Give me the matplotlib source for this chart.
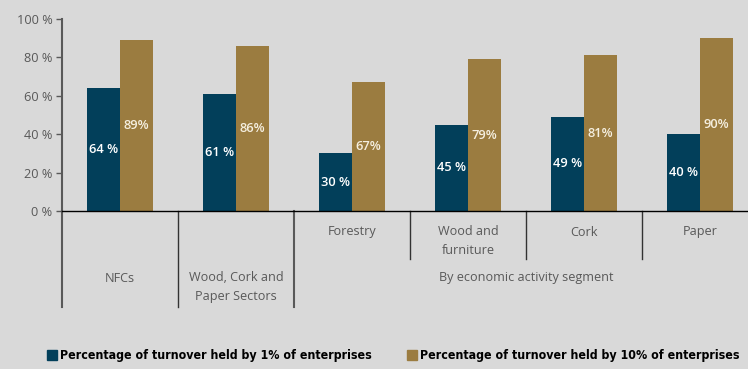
import matplotlib.pyplot as plt
from matplotlib.transforms import blended_transform_factory
from matplotlib.patches import Rectangle
from matplotlib import font_manager

# datos
grupos = ["NFCs", "Wood, Cork and\nPaper Sectors", "Forestry", "Wood and\nfurniture", "Cork", "Paper"]
top1 = [64, 61, 30, 45, 49, 40]
top10 = [89, 86, 67, 79, 81, 90]
etiq1 = ["64 %", "61 %", "30 %", "45 %", "49 %", "40 %"]
etiq10 = ["89%", "86%", "67%", "79%", "81%", "90%"]
yticks = [0, 20, 40, 60, 80, 100]
ylabels = ["0 %", "20 %", "40 %", "60 %", "80 %", "100 %"]
leyenda = ["Percentage of turnover held by 1% of enterprises",
           "Percentage of turnover held by 10% of enterprises"]

azul = "#023f5a"
oro = "#9b7c40"
fondo = "#d9d9d9"
gris = "#595959"

W, H = 748, 369
fig = plt.figure(figsize=(W / 100, H / 100), dpi=100, facecolor=fondo)
ax = fig.add_axes([62 / W, (H - 211) / H, 696 / W, 192 / H])
ax.set_facecolor(fondo)

ancho = 0.284
x = [i + 0.5 for i in range(len(grupos))]
b1 = ax.bar([v - ancho / 2 for v in x], top1, ancho, color=azul)
b2 = ax.bar([v + ancho / 2 for v in x], top10, ancho, color=oro)

for rect, t in zip(b1, etiq1):
    ax.text(rect.get_x() + rect.get_width() / 2, rect.get_height() / 2, t,
            ha="center", va="center", color="white", fontsize=9.3,
            fontweight="semibold", family="Open Sans")
for rect, t in zip(b2, etiq10):
    ax.text(rect.get_x() + rect.get_width() / 2, rect.get_height() / 2, t,
            ha="center", va="center", color="#f5efe0", fontsize=9.3,
            fontweight="semibold", family="Open Sans")

ax.set_xlim(0, 6)
ax.set_ylim(0, 100)
ax.set_yticks(yticks)
ax.set_yticklabels(ylabels, family="Open Sans", fontsize=9.2, color=gris)
ax.tick_params(axis="y", length=4, color=gris, width=1, pad=3)
ax.set_xticks([])
for s in ["top", "right"]:
    ax.spines[s].set_visible(False)
ax.spines["left"].set_color(gris)
ax.spines["left"].set_linewidth(1.5)
ax.spines["bottom"].set_color("black")
ax.spines["bottom"].set_linewidth(1)

# separadores y etiquetas debajo del eje
tr = blended_transform_factory(ax.transData, fig.transFigure)
def fy(py):
    return 1 - py / H

ax.plot([0, 0], [fy(211), fy(307)], transform=tr, color=gris, lw=1.5, clip_on=False)
ax.plot([1, 1], [fy(211), fy(307)], transform=tr, color="#333333", lw=1, clip_on=False)
ax.plot([2, 2], [fy(211), fy(307)], transform=tr, color=gris, lw=1.5, clip_on=False)
for xs in [3, 4, 5]:
    ax.plot([xs, xs], [fy(211), fy(259)], transform=tr, color="#333333", lw=1, clip_on=False)

estilo = dict(transform=tr, ha="center", va="center", family="Open Sans", fontsize=9.1,
              color=gris, linespacing=1.6, clip_on=False)
ax.text(x[0], fy(278), grupos[0], **estilo)
ax.text(x[1], fy(287), grupos[1], **estilo)
for i in range(2, 6):
    yc = 240.5 if "\n" in grupos[i] else 232
    ax.text(x[i], fy(yc), grupos[i], **estilo)
ax.text(4, fy(278), "By economic activity segment", **estilo)

# leyenda dibujada a mano
fam = "DejaVu Sans"
try:
    font_manager.findfont(font_manager.FontProperties(family="Liberation Sans Narrow"),
                          fallback_to_default=False)
    fam = "Liberation Sans Narrow"
except ValueError:
    pass
for px, col, txt in [(47, azul, leyenda[0]), (407, oro, leyenda[1])]:
    fig.patches.append(Rectangle((px / W, fy(360)), 10 / W, 10 / H, color=col,
                                 transform=fig.transFigure))
    fig.text((px + 13) / W, fy(355), txt, ha="left", va="center", color="black",
             family=fam, weight="bold", fontstretch="condensed", fontsize=8.9)

fig.savefig("out.png", dpi=100, facecolor=fondo)
